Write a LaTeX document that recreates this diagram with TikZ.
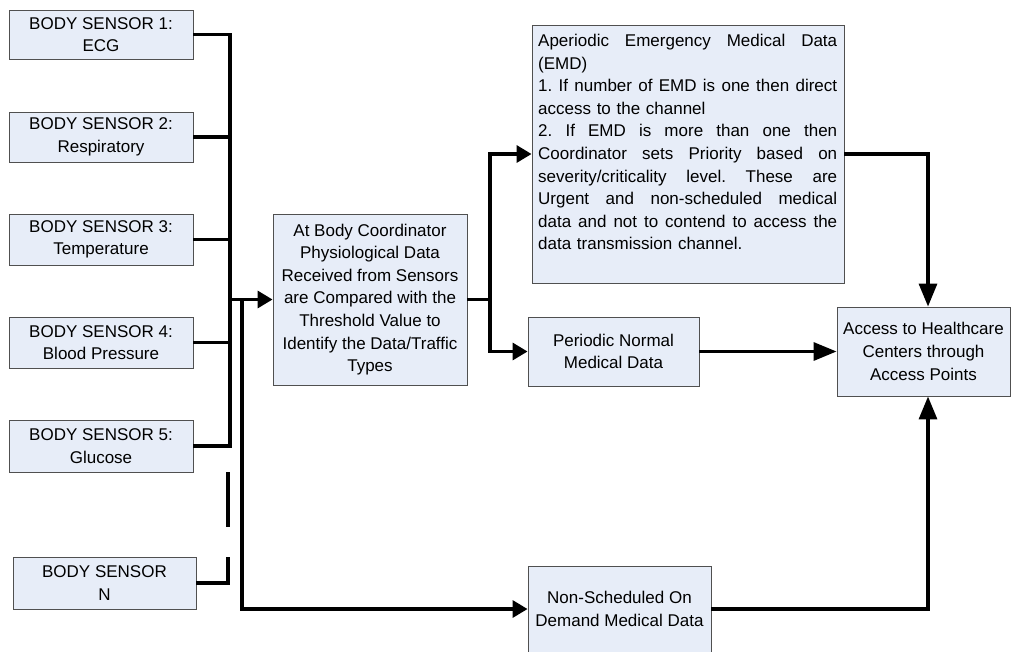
\documentclass[tikz,border=0pt]{standalone}
\usepackage{fontspec}
\setmainfont{Liberation Sans}
\usetikzlibrary{arrows.meta}
\definecolor{boxfill}{RGB}{231,237,248}
\definecolor{boxline}{RGB}{80,80,80}
\newcommand{\diagfont}{\fontsize{17}{22.6}\selectfont\frenchspacing}
% a line of the EMD note spread to the full column width
\newcommand{\spreadline}[1]{\leavevmode\hbox to 299pt{#1}}
\tikzset{
  box/.style={draw=boxline, fill=boxfill, line width=0.9pt, inner sep=0pt,
              align=center, font=\diagfont},
  wire/.style={line width=3.3pt, line join=miter},
  sarrow/.style={wire, -{Triangle[length=15pt,width=17pt]}},
  barrow/.style={wire, -{Triangle[length=23pt,width=18pt]}},
}
\begin{document}
\begin{tikzpicture}[x=1pt,y=-1pt]
\useasboundingbox (0,0) rectangle (1011,651);
\clip (0,0) rectangle (1011,651);

% sensor boxes
\node[box, minimum width=184pt, minimum height=49pt] (s1) at (101,34.5) {BODY SENSOR 1:\\ECG};
\node[box, minimum width=184pt, minimum height=50pt] (s2) at (101,137) {BODY SENSOR 2:\\Respiratory};
\node[box, minimum width=184pt, minimum height=51pt] (s3) at (101,239.5) {BODY SENSOR 3:\\Temperature};
\node[box, minimum width=184pt, minimum height=51pt] (s4) at (101,342.5) {BODY SENSOR 4:\\Blood Pressure};
\node[box, minimum width=184pt, minimum height=52pt] (s5) at (101,446) {BODY SENSOR 5:\\Glucose};
\node[box, minimum width=183pt, minimum height=52pt] (sn) at (104.5,583) {BODY SENSOR\\N};

% processing boxes
\node[box, minimum width=194pt, minimum height=171pt] (coord) at (370,299.5)
  {At Body Coordinator\\Physiological Data\\Received from Sensors\\are Compared with the\\Threshold Value to\\Identify the Data/Traffic\\Types};
\node[box, minimum width=312pt, minimum height=258pt] (emd) at (688,154) {};
\node[font=\diagfont, anchor=north west, inner sep=0pt, text width=299pt, align=left] (emdtext) at (538,34)
  {\spreadline{Aperiodic\hfill Emergency\hfill Medical\hfill Data}\\
   (EMD)\\
   \spreadline{1.\hfill If\hfill number\hfill of\hfill EMD\hfill is\hfill one\hfill then\hfill direct}\\
   access to the channel\\
   \spreadline{2.\hfill If\hfill EMD\hfill is\hfill more\hfill than\hfill one\hfill then}\\
   \spreadline{Coordinator\hfill sets\hfill Priority\hfill based\hfill on}\\
   \spreadline{severity/criticality\hfill level.\hfill These\hfill are}\\
   \spreadline{Urgent\hfill and\hfill non-scheduled\hfill medical}\\
   \spreadline{data\hfill and\hfill not\hfill to\hfill contend\hfill to\hfill access\hfill the}\\
   data transmission channel.};
\node[box, minimum width=171pt, minimum height=69pt] (periodic) at (613.5,351.5) {Periodic Normal\\Medical Data};
\node[box, minimum width=173pt, minimum height=89pt] (access) at (923.5,351.5) {Access to Healthcare\\Centers through\\Access Points};
\node[box, minimum width=183pt, minimum height=86pt] (nonsched) at (619.5,609) {Non-Scheduled On\\Demand Medical Data};

% bus collecting the sensors
\coordinate (busx) at (230,0);
\coordinate (tapx) at (242,0);
\coordinate (dashx) at (228,0);
\draw[wire] (s1.east) -- (s1.east -| busx) -- (s5.east -| busx) -- (s5.east);
\draw[wire] (s2.east) -- (s2.east -| busx);
\draw[wire] (s3.east) -- (s3.east -| busx);
\draw[wire] (s4.east) -- (s4.east -| busx);
\coordinate (busout) at (coord.west -| busx);
\draw[sarrow] (busout) -- (coord.west);

% dashed continuation down to sensor N
\coordinate (dashtop) at (228,472);
\coordinate (dashbot) at (228,527);
\draw[wire, line cap=butt] (dashtop) -- (dashbot);
\draw[wire] (sn.east) -- (sn.east -| dashx) -- ++(0,-26);

% on-demand branch
\coordinate (tap) at (coord.west -| tapx);
\draw[sarrow] (tap) |- (nonsched.west);

% coordinator outputs
\coordinate (split) at (490,299.5);
\draw[wire] (coord.east) -- (split);
\draw[sarrow] (split) |- (emd.west);
\draw[sarrow] (split) |- (periodic.west);

% delivery to access points
\coordinate (accx) at (928,0);
\draw[barrow] (emd.east) -- (emd.east -| accx) -- (access.north -| accx);
\draw[barrow] (periodic.east) -- (access.west);
\draw[barrow] (nonsched.east) -- (nonsched.east -| accx) -- (access.south -| accx);
\end{tikzpicture}
\end{document}
